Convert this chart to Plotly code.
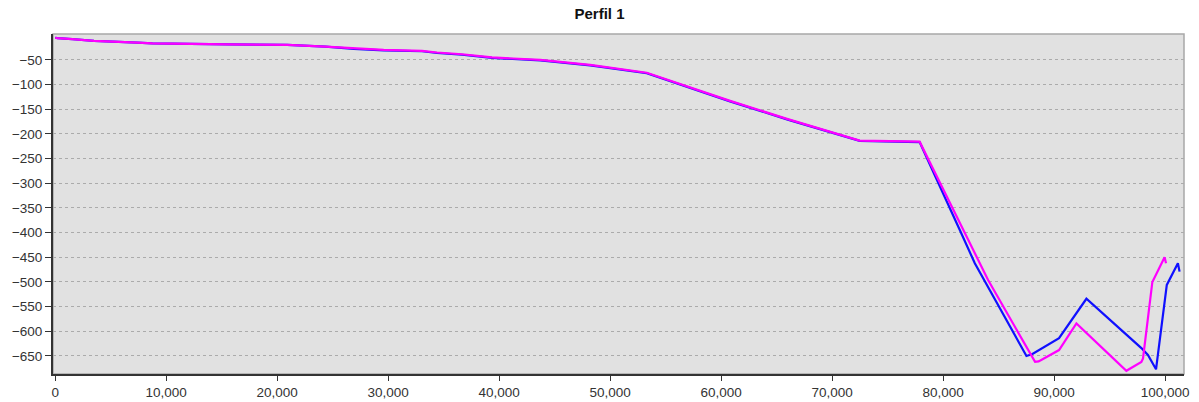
import plotly.graph_objects as go

# Magenta profile
mag_x = [0, 200, 1548, 3492, 7399, 8749, 15644, 20900, 24347, 26895, 29595, 33051, 34401,
         36652, 39352, 43700, 48200, 53300, 60800, 66000, 72480, 77880, 84050, 88280, 88600,
         90441, 92007, 96508, 97858, 98008, 98848, 99950, 100080]
mag_y = [-5, -6, -8, -11.6, -15, -16.4, -18.4, -19.7, -23, -26.4, -29.8, -31.8, -35,
         -38.5, -45, -50, -60, -76, -133, -170, -213.6, -215.7, -496, -662, -661,
         -638, -584, -680, -662, -655, -500, -450, -462]

# Blue profile
blue_x = [0, 200, 1548, 3492, 7399, 8749, 15644, 20900, 24347, 26895, 29595, 33051, 34401,
          36652, 39352, 43700, 48200, 53300, 60800, 66000, 72480, 77880, 81500, 82853, 87507,
          88047, 90441, 92907, 97860, 98450, 99180, 100150, 101150, 101300]
blue_y = [-5, -6, -8, -11.6, -15, -16.4, -18.4, -19.7, -23, -27.5, -30.5, -32.5, -36,
          -39.5, -46, -51, -61, -77, -134, -171, -214, -216.5, -394.6, -462, -650,
          -646, -614, -534, -634, -648, -677, -506, -462, -479]

y_ticks = [-50, -100, -150, -200, -250, -300, -350, -400, -450, -500, -550, -600, -650]
x_ticks = [0, 10000, 20000, 30000, 40000, 50000, 60000, 70000, 80000, 90000, 100000]

fig = go.Figure()
fig.add_trace(go.Scatter(x=blue_x, y=blue_y, mode="lines",
                         line=dict(color="#1010ff", width=2.2), showlegend=False))
fig.add_trace(go.Scatter(x=mag_x, y=mag_y, mode="lines",
                         line=dict(color="#ff00ff", width=2.2), showlegend=False))

fig.add_shape(type="rect", xref="paper", yref="paper", x0=0, y0=0, x1=1, y1=1,
              line=dict(color="#a8a8a8", width=1.5), layer="below")

fig.update_layout(
    width=1199, height=402,
    margin=dict(l=53, r=15, t=34, b=28),
    paper_bgcolor="white", plot_bgcolor="#e1e1e1",
    font=dict(family="Liberation Sans, Arial, sans-serif", size=13.5, color="#333333"),
    title=dict(text="<b>Perfil 1</b>", x=0.5, xanchor="center", y=0.965, yanchor="middle",
               font=dict(size=15, color="#111111")),
)
fig.update_xaxes(range=[-200, 101700], tickvals=x_ticks, tickformat=",", automargin=False,
                 showgrid=False, zeroline=False, showline=True, linecolor="#333333",
                 linewidth=2, ticks="outside", ticklen=5, tickcolor="#333333")
fig.update_yaxes(range=[-686.5, 2.5], tickvals=y_ticks, automargin=False,
                 showgrid=True, gridcolor="#ababab", griddash="dot", gridwidth=1,
                 zeroline=False, showline=True, linecolor="#333333", linewidth=2,
                 ticks="outside", ticklen=6, tickcolor="#333333")

fig.write_html("out.html", config={"displayModeBar": False},
               post_script="document.body.style.margin='0';document.body.style.overflow='hidden';")
